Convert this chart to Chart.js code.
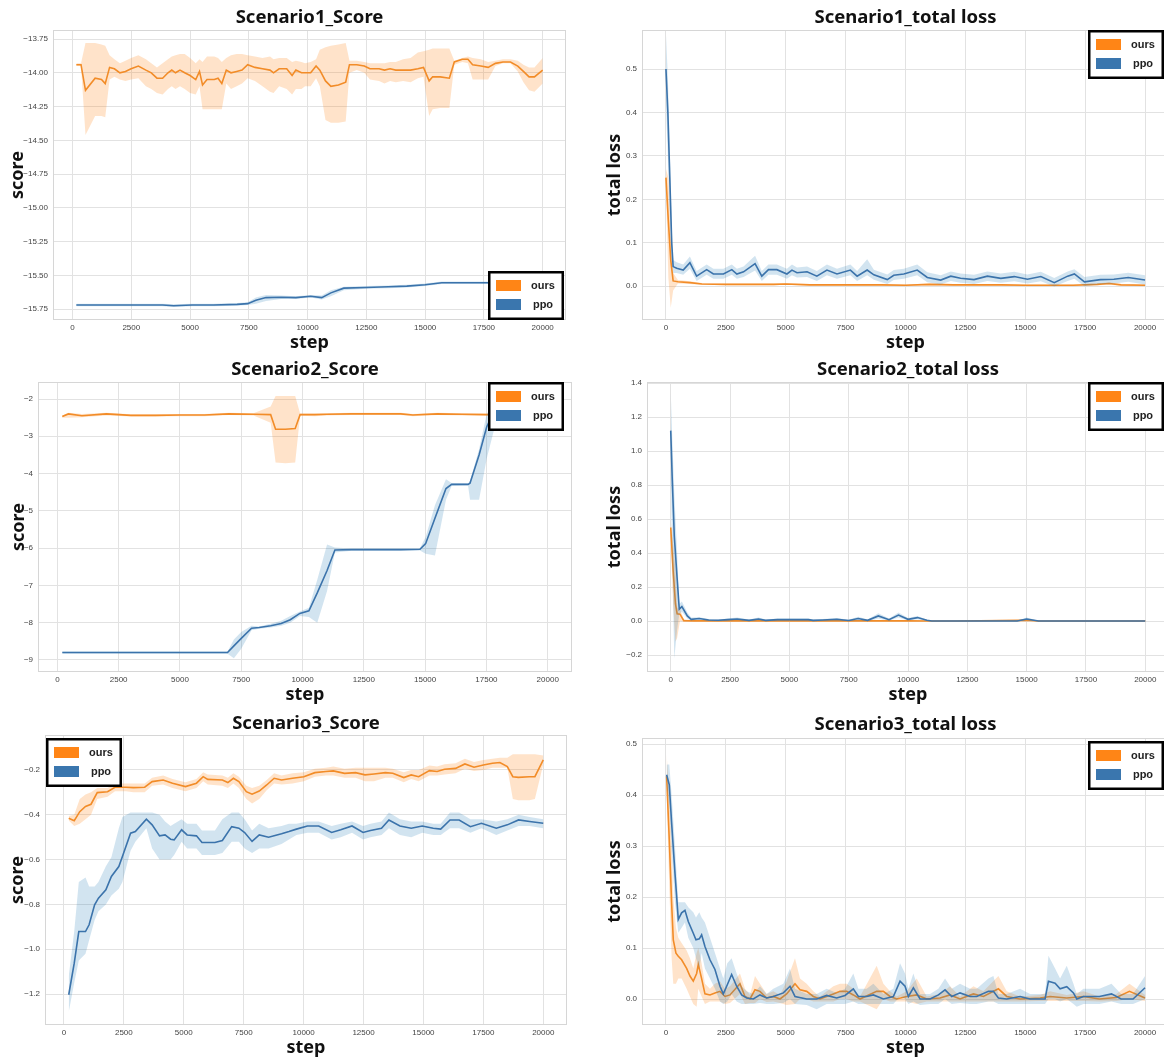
<!DOCTYPE html>
<html lang="en">

<head>
    <meta charset="UTF-8">
    <title>Scenario results</title>
    <script src="https://cdn.jsdelivr.net/npm/chart.js@4.4.0/dist/chart.umd.min.js"></script>
    <style>
        html, body { margin: 0; padding: 0; background: #fff; overflow: hidden; width: 1164px; height: 1062px; }
        canvas { position: absolute; }
    </style>
</head>

<body>
    <canvas id="c1" style="left:0;top:0" width="580" height="355"></canvas>
    <canvas id="c2" style="left:580px;top:0" width="589" height="355"></canvas>
    <canvas id="c3" style="left:0;top:355px" width="580" height="355"></canvas>
    <canvas id="c4" style="left:580px;top:355px" width="589" height="355"></canvas>
    <canvas id="c5" style="left:0;top:710px" width="580" height="352"></canvas>
    <canvas id="c6" style="left:580px;top:710px" width="589" height="352"></canvas>
    <script>
        var legendNames = ['ours', 'ppo'];
        var stepTicks = [0, 2500, 5000, 7500, 10000, 12500, 15000, 17500, 20000];

        var s1ScoreYTicks = [-15.75, -15.5, -15.25, -15, -14.75, -14.5, -14.25, -14, -13.75];
        var s1LossYTicks = [0, 0.1, 0.2, 0.3, 0.4, 0.5];
        var s2ScoreYTicks = [-9, -8, -7, -6, -5, -4, -3, -2];
        var s2LossYTicks = [-0.2, 0, 0.2, 0.4, 0.6, 0.8, 1.0, 1.2, 1.4];
        var s3ScoreYTicks = [-1.2, -1.0, -0.8, -0.6, -0.4, -0.2];
        var s3LossYTicks = [0, 0.1, 0.2, 0.3, 0.4, 0.5];

        // Scenario1 score
        var s1ScoreOursSteps = [160, 360, 550, 960, 1230, 1390, 1575, 1780, 2015, 2250,
            2490, 2800, 3120, 3350, 3590, 3830, 4060, 4220, 4380, 4570,
            4770, 5000, 5240, 5400, 5530, 5720, 6030, 6190, 6350, 6540,
            6740, 6980, 7210, 7450, 7760, 8080, 8400, 8550, 8790, 9110,
            9340, 9500, 9740, 9890, 10130, 10360, 10520, 10760, 10990, 11310,
            11620, 11780, 12090, 12410, 12650, 13040, 13270, 13510, 13750, 14060,
            14380, 14690, 14930, 15170, 15320, 15640, 16030, 16240, 16580, 16820,
            17020, 17370, 17680, 17990, 18310, 18630, 18940, 19180, 19420, 19650, 20000];
        var s1ScoreOursMean = [-13.94, -13.94, -14.13, -14.04, -14.05, -14.08, -13.96, -13.97, -14.00, -13.99,
            -13.97, -13.95, -13.98, -14.00, -14.04, -14.04, -14.00, -13.98, -14.00, -13.98,
            -14.00, -14.02, -14.05, -13.99, -14.09, -14.05, -14.05, -14.04, -14.08, -13.98,
            -14.00, -13.99, -13.98, -13.94, -13.96, -13.97, -13.98, -14.00, -13.97, -13.97,
            -14.02, -13.98, -14.00, -14.00, -14.00, -13.95, -13.98, -14.06, -14.10, -14.09,
            -14.07, -13.94, -13.94, -13.95, -13.97, -13.97, -13.98, -13.97, -13.98, -13.98,
            -13.98, -13.97, -13.96, -14.06, -14.03, -14.03, -14.04, -13.92, -13.90, -13.90,
            -13.94, -13.95, -13.96, -13.93, -13.92, -13.92, -13.95, -13.99, -14.03, -14.03, -13.98];
        var s1ScoreOursHi = [-13.93, -13.93, -13.78, -13.78, -13.79, -13.80, -13.87, -13.90, -13.93, -13.91,
            -13.89, -13.87, -13.90, -13.93, -13.96, -13.93, -13.90, -13.88, -13.87, -13.86,
            -13.86, -13.89, -13.93, -13.90, -13.92, -13.88, -13.88, -13.89, -13.92, -13.89,
            -13.87, -13.86, -13.86, -13.87, -13.88, -13.89, -13.88, -13.90, -13.89, -13.89,
            -13.92, -13.91, -13.92, -13.93, -13.92, -13.90, -13.83, -13.81, -13.80, -13.79,
            -13.78, -13.91, -13.91, -13.92, -13.93, -13.93, -13.93, -13.92, -13.92, -13.90,
            -13.89, -13.85, -13.84, -13.83, -13.82, -13.82, -13.82, -13.91, -13.89, -13.88,
            -13.89, -13.90, -13.92, -13.91, -13.90, -13.90, -13.91, -13.94, -13.96, -13.96, -13.89];
        var s1ScoreOursLo = [-13.95, -13.95, -14.46, -14.32, -14.32, -14.33, -14.05, -14.03, -14.05, -14.06,
            -14.05, -14.04, -14.10, -14.12, -14.15, -14.16, -14.12, -14.10, -14.12, -14.10,
            -14.12, -14.15, -14.16, -14.10, -14.27, -14.27, -14.27, -14.27, -14.27, -14.08,
            -14.12, -14.10, -14.08, -14.04, -14.06, -14.10, -14.14, -14.15, -14.10, -14.12,
            -14.16, -14.12, -14.12, -14.10, -14.10, -14.04, -14.10, -14.35, -14.37, -14.37,
            -14.36, -14.00, -13.98, -14.00, -14.05, -14.06, -14.08, -14.06, -14.07, -14.06,
            -14.07, -14.04, -14.03, -14.32, -14.27, -14.26, -14.26, -13.94, -13.92, -13.93,
            -14.05, -14.05, -14.05, -13.95, -13.93, -13.93, -13.99, -14.07, -14.13, -14.14, -14.08];

        var s1ScorePpoSteps = [160, 1000, 2000, 3000, 3830, 4300, 5090, 6000, 7000, 7450,
            7800, 8230, 8870, 9500, 10130, 10600, 10990, 11540, 12490, 13430,
            14220, 15000, 15710, 17680, 20000];
        var s1ScorePpoMean = [-15.72, -15.72, -15.72, -15.72, -15.72, -15.725, -15.72, -15.72, -15.715, -15.71,
            -15.685, -15.665, -15.662, -15.665, -15.655, -15.665, -15.63, -15.595, -15.59, -15.585,
            -15.58, -15.57, -15.555, -15.555, -15.555];
        var s1ScorePpoHi = [-15.71, -15.71, -15.71, -15.71, -15.71, -15.715, -15.71, -15.71, -15.705, -15.70,
            -15.665, -15.645, -15.65, -15.655, -15.645, -15.65, -15.61, -15.585, -15.58, -15.575,
            -15.57, -15.56, -15.545, -15.545, -15.545];
        var s1ScorePpoLo = [-15.73, -15.73, -15.73, -15.73, -15.73, -15.735, -15.73, -15.73, -15.725, -15.72,
            -15.71, -15.69, -15.675, -15.675, -15.665, -15.68, -15.655, -15.61, -15.60, -15.595,
            -15.59, -15.58, -15.565, -15.565, -15.565];

        // Scenario1 total loss
        var s1LossOursSteps = [0, 100, 200, 300, 500, 1000, 1500, 2500, 3500, 4500,
            5000, 6000, 7000, 8000, 9000, 10000, 11000, 12000, 13000, 14000,
            15000, 16000, 17000, 18000, 18500, 19000, 20000];
        var s1LossOursMean = [0.25, 0.15, 0.06, 0.012, 0.010, 0.008, 0.005, 0.004, 0.004, 0.004,
            0.005, 0.003, 0.003, 0.003, 0.003, 0.002, 0.004, 0.003, 0.003, 0.003,
            0.002, 0.002, 0.002, 0.004, 0.006, 0.003, 0.002];
        var s1LossOursHi = [0.27, 0.25, 0.12, 0.03, 0.014, 0.011, 0.007, 0.006, 0.006, 0.006,
            0.007, 0.005, 0.005, 0.005, 0.005, 0.004, 0.006, 0.005, 0.005, 0.005,
            0.004, 0.004, 0.004, 0.006, 0.009, 0.005, 0.004];
        var s1LossOursLo = [0.23, 0.02, -0.05, -0.01, 0.006, 0.005, 0.003, 0.002, 0.002, 0.002,
            0.003, 0.001, 0.001, 0.001, 0.001, 0.0, 0.002, 0.001, 0.001, 0.001,
            0.0, 0.0, 0.0, 0.002, 0.003, 0.001, 0.0];

        var s1LossPpoSteps = [0, 80, 160, 240, 300, 450, 720, 1000, 1280, 1700,
            1980, 2400, 2750, 2960, 3240, 3720, 4000, 4280, 4630, 5050,
            5260, 5470, 5890, 6300, 6720, 7140, 7700, 7980, 8400, 8680,
            9240, 9510, 9930, 10490, 10910, 11470, 11890, 12300, 12860, 13420,
            13980, 14540, 15090, 15650, 16210, 16770, 17050, 17470, 18140, 18700,
            19300, 20000];
        var s1LossPpoMean = [0.50, 0.40, 0.25, 0.10, 0.045, 0.041, 0.037, 0.054, 0.023, 0.038,
            0.028, 0.028, 0.038, 0.028, 0.033, 0.052, 0.023, 0.038, 0.038, 0.028,
            0.037, 0.031, 0.033, 0.023, 0.037, 0.028, 0.037, 0.023, 0.037, 0.026,
            0.015, 0.025, 0.028, 0.037, 0.020, 0.014, 0.023, 0.018, 0.015, 0.023,
            0.018, 0.022, 0.016, 0.022, 0.008, 0.023, 0.028, 0.010, 0.015, 0.016,
            0.020, 0.014];
        var s1LossPpoHi = [0.58, 0.48, 0.32, 0.14, 0.06, 0.055, 0.05, 0.068, 0.035, 0.05,
            0.04, 0.04, 0.05, 0.04, 0.045, 0.07, 0.035, 0.05, 0.05, 0.04,
            0.05, 0.043, 0.045, 0.035, 0.05, 0.04, 0.05, 0.035, 0.062, 0.038,
            0.027, 0.037, 0.04, 0.05, 0.032, 0.025, 0.034, 0.029, 0.026, 0.034,
            0.029, 0.033, 0.027, 0.033, 0.019, 0.034, 0.039, 0.021, 0.026, 0.027,
            0.031, 0.025];
        var s1LossPpoLo = [0.42, 0.30, 0.17, 0.06, 0.03, 0.03, 0.026, 0.04, 0.012, 0.026,
            0.017, 0.017, 0.026, 0.017, 0.021, 0.036, 0.012, 0.026, 0.026, 0.017,
            0.025, 0.02, 0.021, 0.012, 0.025, 0.017, 0.025, 0.012, 0.025, 0.015,
            0.005, 0.014, 0.017, 0.025, 0.009, 0.004, 0.012, 0.008, 0.005, 0.012,
            0.008, 0.011, 0.006, 0.011, -0.001, 0.012, 0.017, 0.0, 0.005, 0.006,
            0.01, 0.004];

        // Scenario2 score
        var s2ScoreOursSteps = [200, 450, 1000, 2000, 3000, 4000, 5000, 6000, 7000, 8000,
            8700, 8900, 9300, 9700, 9900, 10500, 11000, 12000, 13000, 14000,
            14500, 15500, 16500, 17500, 18500, 20000];
        var s2ScoreOursMean = [-2.47, -2.40, -2.45, -2.40, -2.44, -2.44, -2.43, -2.43, -2.40, -2.41,
            -2.42, -2.81, -2.81, -2.79, -2.42, -2.42, -2.41, -2.40, -2.40, -2.40,
            -2.43, -2.40, -2.41, -2.42, -2.42, -2.42];
        var s2ScoreOursHi = [-2.44, -2.37, -2.40, -2.37, -2.41, -2.41, -2.40, -2.40, -2.37, -2.38,
            -2.20, -1.92, -1.92, -1.92, -2.39, -2.39, -2.38, -2.37, -2.37, -2.37,
            -2.40, -2.37, -2.38, -2.39, -2.39, -2.39];
        var s2ScoreOursLo = [-2.50, -2.50, -2.49, -2.44, -2.47, -2.47, -2.46, -2.46, -2.43, -2.44,
            -2.64, -3.70, -3.72, -3.70, -2.45, -2.46, -2.44, -2.43, -2.43, -2.43,
            -2.46, -2.43, -2.44, -2.45, -2.45, -2.45];

        var s2ScorePpoSteps = [200, 2000, 4000, 6000, 6940, 7200, 7500, 7920, 8230, 8700,
            9130, 9500, 9890, 10260, 10600, 11000, 11320, 12000, 13000, 14000,
            14790, 15020, 15400, 15850, 16080, 16750, 16830, 17200, 17510, 17900];
        var s2ScorePpoMean = [-8.80, -8.80, -8.80, -8.80, -8.80, -8.62, -8.42, -8.15, -8.13, -8.08,
            -8.02, -7.92, -7.75, -7.68, -7.20, -6.60, -6.05, -6.04, -6.04, -6.04,
            -6.03, -5.88, -5.20, -4.40, -4.29, -4.29, -4.26, -3.50, -2.75, -2.20];
        var s2ScorePpoHi = [-8.77, -8.77, -8.77, -8.77, -8.77, -8.45, -8.25, -8.08, -8.10, -8.03,
            -7.95, -7.82, -7.70, -7.60, -6.85, -5.90, -5.98, -6.01, -6.01, -6.01,
            -6.00, -5.70, -4.85, -4.15, -4.25, -4.26, -4.20, -3.35, -2.40, -2.00];
        var s2ScorePpoLo = [-8.83, -8.83, -8.83, -8.83, -8.83, -8.95, -8.70, -8.20, -8.16, -8.13,
            -8.08, -8.00, -7.82, -7.85, -8.00, -7.15, -6.12, -6.07, -6.07, -6.07,
            -6.06, -6.15, -6.20, -4.70, -4.33, -4.32, -4.70, -4.70, -3.60, -2.60];

        // Scenario2 total loss
        var s2LossOursSteps = [0, 100, 200, 270, 390, 550, 1000, 2000, 4000, 6000,
            8000, 10000, 10800, 12000, 15000, 15500, 17500, 20000];
        var s2LossOursMean = [0.55, 0.30, 0.10, 0.043, 0.04, 0.002, 0.001, 0.001, 0.001, 0.001,
            0.001, 0.001, 0.0, 0.0, 0.004, 0.0, 0.0, 0.0];
        var s2LossOursHi = [0.60, 0.45, 0.30, 0.08, 0.07, 0.01, 0.005, 0.004, 0.004, 0.004,
            0.004, 0.004, 0.002, 0.001, 0.01, 0.002, 0.001, 0.001];
        var s2LossOursLo = [0.50, 0.10, -0.12, -0.10, 0.0, -0.005, -0.003, -0.002, -0.002, -0.002,
            -0.002, -0.002, -0.002, -0.001, -0.002, -0.002, -0.001, -0.001];

        var s2LossPpoSteps = [0, 60, 150, 270, 360, 470, 700, 860, 1200, 1600,
            2000, 2400, 2800, 3300, 3700, 4000, 4500, 5200, 5800, 6000,
            6400, 7000, 7500, 7900, 8300, 8750, 9200, 9600, 10000, 10400,
            10800, 11000, 14600, 15000, 15500, 20000];
        var s2LossPpoMean = [1.12, 0.85, 0.50, 0.25, 0.07, 0.085, 0.03, 0.01, 0.015, 0.006,
            0.004, 0.008, 0.012, 0.004, 0.012, 0.004, 0.008, 0.008, 0.008, 0.004,
            0.006, 0.01, 0.003, 0.015, 0.004, 0.03, 0.008, 0.035, 0.01, 0.02,
            0.004, 0.0, 0.0, 0.012, 0.0, 0.0];
        var s2LossPpoHi = [1.35, 1.10, 0.75, 0.40, 0.10, 0.115, 0.05, 0.02, 0.022, 0.012,
            0.009, 0.014, 0.02, 0.009, 0.02, 0.009, 0.014, 0.014, 0.014, 0.009,
            0.012, 0.018, 0.008, 0.025, 0.009, 0.045, 0.014, 0.05, 0.018, 0.03,
            0.008, 0.002, 0.002, 0.02, 0.002, 0.002];
        var s2LossPpoLo = [0.90, 0.40, -0.22, -0.05, 0.04, 0.055, 0.015, 0.003, 0.008, 0.0,
            -0.001, 0.002, 0.004, -0.001, 0.004, -0.001, 0.002, 0.002, 0.002, -0.001,
            0.0, 0.003, -0.002, 0.005, -0.001, 0.015, 0.002, 0.02, 0.003, 0.01,
            0.0, -0.002, -0.002, 0.004, -0.002, -0.002];

        // Scenario3 score
        var s3ScoreOursSteps = [200, 430, 660, 900, 1130, 1390, 1820, 2130, 2590, 2900,
            3370, 3680, 4140, 4530, 5070, 5530, 5810, 6000, 6610, 6840,
            7070, 7300, 7610, 7850, 8150, 8460, 8770, 9080, 9540, 10010,
            10470, 10930, 11240, 11710, 12170, 12560, 12940, 13410, 13720, 14180,
            14490, 14800, 15250, 15570, 15880, 16340, 16730, 17110, 17500, 17880,
            18190, 18500, 18730, 18960, 19420, 19650, 20000];
        var s3ScoreOursMean = [-0.415, -0.426, -0.386, -0.363, -0.353, -0.301, -0.297, -0.277, -0.277, -0.279,
            -0.277, -0.252, -0.245, -0.259, -0.274, -0.259, -0.230, -0.242, -0.245, -0.256,
            -0.237, -0.252, -0.297, -0.308, -0.294, -0.267, -0.237, -0.245, -0.237, -0.230,
            -0.212, -0.207, -0.204, -0.215, -0.212, -0.222, -0.218, -0.212, -0.215, -0.234,
            -0.222, -0.230, -0.203, -0.207, -0.197, -0.193, -0.173, -0.188, -0.178, -0.170,
            -0.167, -0.185, -0.230, -0.233, -0.230, -0.230, -0.155];
        var s3ScoreOursHi = [-0.405, -0.40, -0.33, -0.31, -0.30, -0.28, -0.28, -0.26, -0.26, -0.26,
            -0.26, -0.235, -0.225, -0.24, -0.255, -0.24, -0.21, -0.22, -0.225, -0.235,
            -0.215, -0.23, -0.27, -0.28, -0.27, -0.245, -0.215, -0.225, -0.215, -0.21,
            -0.195, -0.19, -0.185, -0.195, -0.19, -0.19, -0.19, -0.19, -0.195, -0.21,
            -0.2, -0.2, -0.18, -0.185, -0.175, -0.17, -0.15, -0.165, -0.155, -0.15,
            -0.145, -0.145, -0.13, -0.13, -0.13, -0.13, -0.135];
        var s3ScoreOursLo = [-0.425, -0.45, -0.44, -0.42, -0.40, -0.33, -0.32, -0.295, -0.295, -0.30,
            -0.30, -0.27, -0.265, -0.28, -0.295, -0.28, -0.25, -0.265, -0.27, -0.28,
            -0.26, -0.28, -0.33, -0.35, -0.33, -0.29, -0.26, -0.265, -0.26, -0.25,
            -0.23, -0.225, -0.225, -0.235, -0.235, -0.25, -0.25, -0.235, -0.235, -0.255,
            -0.24, -0.25, -0.225, -0.225, -0.22, -0.215, -0.195, -0.205, -0.2, -0.19,
            -0.19, -0.19, -0.33, -0.335, -0.335, -0.33, -0.175];

        var s3ScorePpoSteps = [200, 430, 620, 900, 1050, 1280, 1440, 1750, 1980, 2290,
            2440, 2780, 2980, 3440, 3680, 3990, 4220, 4450, 4600, 4910,
            5140, 5530, 5760, 6300, 6610, 7000, 7300, 7540, 7850, 8150,
            8540, 9080, 9390, 9700, 10160, 10630, 11170, 11550, 12020, 12480,
            12790, 13250, 13560, 14020, 14490, 14950, 15410, 15720, 16110, 16490,
            16960, 17420, 18040, 18500, 18970, 19430, 20000];
        var s3ScorePpoMean = [-1.203, -1.062, -0.921, -0.921, -0.891, -0.802, -0.772, -0.735, -0.675, -0.631,
            -0.586, -0.482, -0.475, -0.420, -0.445, -0.494, -0.490, -0.509, -0.512, -0.467,
            -0.490, -0.494, -0.524, -0.524, -0.515, -0.453, -0.460, -0.479, -0.519, -0.490,
            -0.500, -0.485, -0.475, -0.464, -0.450, -0.450, -0.479, -0.467, -0.450, -0.479,
            -0.470, -0.460, -0.423, -0.450, -0.460, -0.450, -0.460, -0.464, -0.423, -0.423,
            -0.453, -0.438, -0.460, -0.445, -0.423, -0.430, -0.438];
        var s3ScorePpoHi = [-1.12, -0.92, -0.70, -0.68, -0.72, -0.72, -0.70, -0.63, -0.59, -0.46,
            -0.41, -0.39, -0.39, -0.39, -0.39, -0.40, -0.43, -0.45, -0.44, -0.42,
            -0.44, -0.44, -0.47, -0.47, -0.42, -0.39, -0.39, -0.42, -0.47, -0.44,
            -0.46, -0.45, -0.44, -0.44, -0.43, -0.43, -0.45, -0.44, -0.43, -0.45,
            -0.44, -0.43, -0.39, -0.42, -0.43, -0.43, -0.44, -0.44, -0.39, -0.39,
            -0.42, -0.42, -0.43, -0.42, -0.40, -0.41, -0.42];
        var s3ScorePpoLo = [-1.28, -1.15, -1.05, -1.02, -0.96, -0.87, -0.83, -0.80, -0.76, -0.73,
            -0.70, -0.56, -0.52, -0.46, -0.55, -0.60, -0.60, -0.60, -0.58, -0.52,
            -0.55, -0.55, -0.58, -0.58, -0.57, -0.52, -0.52, -0.55, -0.57, -0.55,
            -0.55, -0.53, -0.51, -0.49, -0.48, -0.48, -0.51, -0.50, -0.48, -0.51,
            -0.50, -0.49, -0.46, -0.49, -0.50, -0.48, -0.49, -0.49, -0.46, -0.46,
            -0.48, -0.46, -0.49, -0.47, -0.45, -0.45, -0.46];

        // Scenario3 total loss
        var s3LossOursSteps = [28, 139, 237, 306, 418, 515, 654, 863, 1002, 1141,
            1281, 1350, 1489, 1628, 1837, 2046, 2255, 2464, 2673, 3090,
            3299, 3508, 3717, 3925, 4204, 4482, 4761, 5039, 5387, 5596,
            5874, 6153, 6431, 6988, 7266, 7545, 7823, 8101, 8797, 9076,
            9354, 9633, 10051, 10468, 10886, 11442, 11860, 12277, 12834, 13252,
            13878, 14226, 14783, 15618, 16036, 16732, 17428, 18096, 18800, 19350, 20000];
        var s3LossOursMean = [0.437, 0.312, 0.188, 0.116, 0.090, 0.084, 0.077, 0.060, 0.045, 0.035,
            0.050, 0.068, 0.040, 0.010, 0.008, 0.012, 0.015, 0.005, 0.008, 0.030,
            0.005, 0.0, 0.018, 0.015, 0.002, 0.005, 0.0, 0.010, 0.030, 0.018,
            0.015, 0.005, 0.0, 0.010, 0.015, 0.015, 0.008, 0.0, 0.015, 0.015,
            0.005, 0.0, 0.005, 0.008, 0.0, 0.002, 0.008, 0.0, 0.010, 0.005,
            0.020, 0.005, 0.0, 0.002, 0.005, 0.002, 0.005, 0.0, 0.003, 0.015, 0.002];
        var s3LossOursHi = [0.48, 0.40, 0.30, 0.20, 0.14, 0.12, 0.11, 0.095, 0.08, 0.06,
            0.09, 0.10, 0.07, 0.03, 0.02, 0.03, 0.035, 0.02, 0.025, 0.05,
            0.02, 0.008, 0.045, 0.03, 0.01, 0.015, 0.008, 0.035, 0.08, 0.04,
            0.03, 0.015, 0.005, 0.025, 0.03, 0.03, 0.02, 0.005, 0.065, 0.03,
            0.015, 0.005, 0.015, 0.04, 0.005, 0.01, 0.025, 0.005, 0.025, 0.015,
            0.045, 0.015, 0.005, 0.008, 0.015, 0.008, 0.015, 0.005, 0.01, 0.03, 0.008];
        var s3LossOursLo = [0.40, 0.22, 0.08, 0.03, 0.03, 0.04, 0.04, 0.02, 0.005, -0.01,
            -0.015, 0.02, 0.005, -0.01, -0.005, -0.005, -0.005, -0.01, -0.008, 0.01,
            -0.01, -0.008, -0.008, 0.0, -0.006, -0.005, -0.008, -0.012, -0.01, 0.0,
            0.0, -0.005, -0.005, -0.005, 0.0, 0.0, -0.005, -0.005, -0.02, 0.0,
            -0.005, -0.005, -0.005, -0.01, -0.005, -0.005, -0.005, -0.005, -0.005, -0.005,
            -0.005, -0.005, -0.005, -0.004, -0.004, -0.004, -0.004, -0.005, -0.004, 0.0, -0.004];

        var s3LossPpoSteps = [28, 139, 237, 376, 515, 654, 793, 932, 1141, 1253,
            1392, 1489, 1628, 1837, 2046, 2255, 2394, 2561, 2742, 2951,
            3160, 3369, 3647, 3925, 4204, 4482, 4900, 5178, 5387, 5874,
            6292, 6709, 7127, 7475, 7823, 8032, 8380, 8658, 9076, 9493,
            9772, 9981, 10120, 10329, 10607, 11025, 11373, 11651, 11930, 12277,
            12695, 12973, 13461, 13669, 13878, 14226, 14783, 15201, 15827, 15967,
            16245, 16453, 16732, 17010, 17149, 17428, 17706, 18096, 18600, 19000,
            19500, 20000];
        var s3LossPpoMean = [0.44, 0.42, 0.345, 0.247, 0.156, 0.169, 0.174, 0.152, 0.129, 0.116,
            0.118, 0.126, 0.103, 0.077, 0.058, 0.025, 0.010, 0.028, 0.048, 0.025,
            0.008, 0.002, 0.0, 0.008, 0.002, 0.005, 0.012, 0.025, 0.005, 0.0,
            0.0, 0.007, 0.002, 0.007, 0.020, 0.005, 0.005, 0.008, 0.0, 0.005,
            0.035, 0.025, 0.005, 0.022, 0.0, 0.0, 0.008, 0.018, 0.005, 0.012,
            0.005, 0.005, 0.015, 0.015, 0.002, 0.0, 0.005, 0.0, 0.0, 0.035,
            0.031, 0.020, 0.024, 0.012, 0.0, 0.005, 0.005, 0.005, 0.010, 0.0,
            0.0, 0.022];
        var s3LossPpoHi = [0.46, 0.46, 0.40, 0.30, 0.19, 0.19, 0.19, 0.18, 0.17, 0.16,
            0.17, 0.16, 0.15, 0.12, 0.09, 0.06, 0.04, 0.07, 0.08, 0.05,
            0.025, 0.015, 0.01, 0.025, 0.01, 0.02, 0.03, 0.06, 0.02, 0.01,
            0.01, 0.02, 0.012, 0.02, 0.05, 0.02, 0.02, 0.03, 0.01, 0.02,
            0.07, 0.05, 0.02, 0.05, 0.01, 0.01, 0.02, 0.04, 0.02, 0.03,
            0.02, 0.02, 0.04, 0.045, 0.01, 0.01, 0.02, 0.01, 0.01, 0.085,
            0.06, 0.04, 0.065, 0.03, 0.01, 0.02, 0.02, 0.02, 0.03, 0.01,
            0.01, 0.045];
        var s3LossPpoLo = [0.42, 0.38, 0.29, 0.19, 0.13, 0.14, 0.15, 0.12, 0.10, 0.08,
            0.06, 0.09, 0.06, 0.04, 0.02, -0.005, -0.01, -0.005, 0.01, -0.005,
            -0.01, -0.01, -0.01, -0.008, -0.01, -0.01, -0.008, 0.0, -0.01, -0.012,
            -0.02, -0.01, -0.01, -0.01, -0.005, -0.01, -0.01, -0.01, -0.01, -0.01,
            0.005, 0.0, -0.01, -0.005, -0.012, -0.01, -0.01, 0.0, -0.01, -0.008,
            -0.01, -0.01, -0.005, -0.005, -0.01, -0.01, -0.01, -0.01, -0.01, 0.0,
            0.0, -0.005, 0.0, -0.01, -0.015, -0.01, -0.01, -0.01, -0.005, -0.01,
            -0.01, 0.0];

        var oursLine = '#f28c28', ppoLine = '#3b73ab';
        var oursBand = 'rgba(255,127,14,0.22)', ppoBand = 'rgba(31,119,180,0.2)';
        var legendColors = ['#ff8516', '#3a76ae'];

        function xy(steps, vals) {
            return steps.map(function (s, i) { return { x: s, y: vals[i] }; });
        }

        var framePlugin = {
            id: 'frame',
            beforeDatasetsDraw: function (chart) {
                var a = chart.chartArea, ctx = chart.ctx;
                ctx.save();
                ctx.strokeStyle = '#d6d6d6';
                ctx.lineWidth = 1;
                ctx.strokeRect(a.left + 0.5, a.top + 0.5, a.right - a.left - 1, a.bottom - a.top - 1);
                ctx.restore();
            }
        };

        var boxLegend = {
            id: 'boxLegend',
            afterDraw: function (chart, args, opts) {
                var ctx = chart.ctx, a = chart.chartArea, w = 76, h = 49;
                var x = opts.corner.indexOf('r') >= 0 ? a.right - opts.dx - w : a.left + opts.dx;
                var y = opts.corner.indexOf('b') >= 0 ? a.bottom - opts.dy - h : a.top + opts.dy;
                ctx.save();
                ctx.fillStyle = '#fff';
                ctx.fillRect(x, y, w, h);
                ctx.lineWidth = 2.5;
                ctx.strokeStyle = '#000';
                ctx.strokeRect(x + 1.25, y + 1.25, w - 2.5, h - 2.5);
                ctx.font = 'bold 11px "Liberation Sans", Arial, sans-serif';
                ctx.textAlign = 'center';
                ctx.textBaseline = 'middle';
                for (var i = 0; i < legendNames.length; i++) {
                    ctx.fillStyle = legendColors[i];
                    ctx.fillRect(x + 8, y + 9 + i * 19, 25, 11);
                    ctx.fillStyle = '#222';
                    ctx.fillText(legendNames[i], x + 55, y + 14.5 + i * 19);
                }
                ctx.restore();
            }
        };

        function makeChart(p, ours, ppo) {
            var thin = { borderWidth: 0, pointRadius: 0, fill: false, tension: 0 };
            var datasets = [
                Object.assign({ data: xy(ours.steps, ours.hi), order: 3 }, thin),
                Object.assign({}, thin, { data: xy(ours.steps, ours.lo), order: 3, fill: { target: 0 }, backgroundColor: oursBand }),
                { data: xy(ours.steps, ours.mean), borderColor: oursLine, borderWidth: 1.6, pointRadius: 0, fill: false, tension: 0, order: 2 },
                Object.assign({ data: xy(ppo.steps, ppo.hi), order: 1 }, thin),
                Object.assign({}, thin, { data: xy(ppo.steps, ppo.lo), order: 1, fill: { target: 3 }, backgroundColor: ppoBand }),
                { data: xy(ppo.steps, ppo.mean), borderColor: ppoLine, borderWidth: 1.6, pointRadius: 0, fill: false, tension: 0, order: 0 }
            ];
            var tickFont = { family: '"Liberation Sans", Arial, sans-serif', size: 8 };
            var labelFont = { family: '"Noto Sans", sans-serif', size: 18, weight: 'bold' };
            return new Chart(document.getElementById(p.id), {
                type: 'line',
                data: { datasets: datasets },
                plugins: [framePlugin, boxLegend],
                options: {
                    responsive: false,
                    animation: false,
                    devicePixelRatio: 1,
                    events: [],
                    layout: { padding: { left: 0, right: p.padRight, top: 0, bottom: 0 } },
                    plugins: {
                        legend: { display: false },
                        tooltip: { enabled: false },
                        title: {
                            display: true, text: p.title, fullSize: false, color: '#111',
                            font: { family: '"Noto Sans", sans-serif', size: 18.5, weight: 'bold' },
                            padding: { top: p.titleTop - 0.9, bottom: p.titleBottom - 0.9 }
                        },
                        boxLegend: p.legend
                    },
                    scales: {
                        x: {
                            type: 'linear', min: p.xMin, max: p.xMax,
                            afterFit: function (s) { s.height = p.xH; },
                            afterBuildTicks: function (s) { s.ticks = stepTicks.map(function (v) { return { value: v }; }); },
                            grid: { color: '#e2e2e2', drawTicks: false },
                            border: { display: false },
                            ticks: { font: tickFont, color: '#444', padding: 3, autoSkip: false, maxRotation: 0, callback: function (v) { return String(v); } },
                            title: { display: true, text: 'step', color: '#111', font: labelFont, padding: { top: 0, bottom: p.xTitlePad } }
                        },
                        y: {
                            type: 'linear', min: p.yMin, max: p.yMax,
                            afterFit: function (s) { s.width = p.yW; },
                            afterBuildTicks: function (s) { s.ticks = p.yTicks.map(function (v) { return { value: v }; }); },
                            grid: { color: '#e2e2e2', drawTicks: false },
                            border: { display: false },
                            ticks: { font: tickFont, color: '#444', padding: 5, autoSkip: false, callback: function (v) { return v.toFixed(p.dec).replace('-', '\u2212'); } },
                            title: { display: true, text: p.yLabel, color: '#111', font: labelFont, padding: { top: p.yTitlePad, bottom: 0 } }
                        }
                    }
                }
            });
        }

        makeChart({ id: 'c1', title: 'Scenario1_Score', yLabel: 'score', xMin: -832, xMax: 20992, yMin: -15.831, yMax: -13.683,
            yTicks: s1ScoreYTicks, dec: 2, yW: 53, yTitlePad: 7.2, xH: 35, xTitlePad: 1.2, titleTop: 7.3, titleBottom: 2.3, padRight: 14,
            legend: { corner: 'br', dx: 2, dy: 0 } },
            { steps: s1ScoreOursSteps, mean: s1ScoreOursMean, lo: s1ScoreOursLo, hi: s1ScoreOursHi },
            { steps: s1ScorePpoSteps, mean: s1ScorePpoMean, lo: s1ScorePpoLo, hi: s1ScorePpoHi });

        makeChart({ id: 'c2', title: 'Scenario1_total loss', yLabel: 'total loss', xMin: -1000, xMax: 21000, yMin: -0.078, yMax: 0.59,
            yTicks: s1LossYTicks, dec: 1, yW: 62, yTitlePad: 23.7, xH: 35, xTitlePad: 1.2, titleTop: 7.3, titleBottom: 2.3, padRight: 0,
            legend: { corner: 'tr', dx: 5, dy: 0 } },
            { steps: s1LossOursSteps, mean: s1LossOursMean, lo: s1LossOursLo, hi: s1LossOursHi },
            { steps: s1LossPpoSteps, mean: s1LossPpoMean, lo: s1LossPpoLo, hi: s1LossPpoHi });

        makeChart({ id: 'c3', title: 'Scenario2_Score', yLabel: 'score', xMin: -790, xMax: 20990, yMin: -9.322, yMax: -1.544,
            yTicks: s2ScoreYTicks, dec: 0, yW: 38, yTitlePad: 7.7, xH: 38, xTitlePad: 4.2, titleTop: 4.8, titleBottom: 1.8, padRight: 8,
            legend: { corner: 'tr', dx: 8, dy: 0 } },
            { steps: s2ScoreOursSteps, mean: s2ScoreOursMean, lo: s2ScoreOursLo, hi: s2ScoreOursHi },
            { steps: s2ScorePpoSteps, mean: s2ScorePpoMean, lo: s2ScorePpoLo, hi: s2ScorePpoHi });

        makeChart({ id: 'c4', title: 'Scenario2_total loss', yLabel: 'total loss', xMin: -1000, xMax: 21000, yMin: -0.30, yMax: 1.406,
            yTicks: s2LossYTicks, dec: 1, yW: 67, yTitlePad: 23.7, xH: 38, xTitlePad: 4.2, titleTop: 4.8, titleBottom: 1.8, padRight: 0,
            legend: { corner: 'tr', dx: 5, dy: 0 } },
            { steps: s2LossOursSteps, mean: s2LossOursMean, lo: s2LossOursLo, hi: s2LossOursHi },
            { steps: s2LossPpoSteps, mean: s2LossPpoMean, lo: s2LossPpoLo, hi: s2LossPpoHi });

        makeChart({ id: 'c5', title: 'Scenario3_Score', yLabel: 'score', xMin: -790, xMax: 20990, yMin: -1.338, yMax: -0.044,
            yTicks: s3ScoreYTicks, dec: 1, yW: 45, yTitlePad: 6.7, xH: 37, xTitlePad: 3.2, titleTop: 3.3, titleBottom: 1.3, padRight: 13,
            legend: { corner: 'tl', dx: 1, dy: 3 } },
            { steps: s3ScoreOursSteps, mean: s3ScoreOursMean, lo: s3ScoreOursLo, hi: s3ScoreOursHi },
            { steps: s3ScorePpoSteps, mean: s3ScorePpoMean, lo: s3ScorePpoLo, hi: s3ScorePpoHi });

        makeChart({ id: 'c6', title: 'Scenario3_total loss', yLabel: 'total loss', xMin: -1000, xMax: 21000, yMin: -0.051, yMax: 0.512,
            yTicks: s3LossYTicks, dec: 1, yW: 62, yTitlePad: 24.2, xH: 37, xTitlePad: 3.2, titleTop: 4.8, titleBottom: 2.8, padRight: 0,
            legend: { corner: 'tr', dx: 5, dy: 3 } },
            { steps: s3LossOursSteps, mean: s3LossOursMean, lo: s3LossOursLo, hi: s3LossOursHi },
            { steps: s3LossPpoSteps, mean: s3LossPpoMean, lo: s3LossPpoLo, hi: s3LossPpoHi });
    </script>
</body>

</html>
